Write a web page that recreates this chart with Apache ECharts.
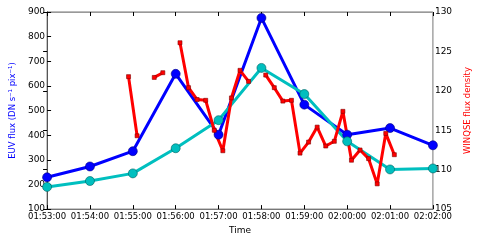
<!DOCTYPE html>
<html>
<head>
<meta charset="utf-8">
<script src="https://cdn.jsdelivr.net/npm/echarts@6/dist/echarts.min.js"></script>
<style>
html,body{margin:0;padding:0;background:#fff;}
#chart{width:480px;height:240px;}
</style>
</head>
<body>
<div id="chart"></div>
<script>
// seconds after 01:53:00
const xTickLabels = ['01:53:00','01:54:00','01:55:00','01:56:00','01:57:00','01:58:00','01:59:00','02:00:00','02:01:00','02:02:00'];
const euvTimes = [0, 60, 120, 180, 240, 300, 360, 420, 480, 540];
const euvBlue = [229, 273, 335, 649, 402, 876, 524, 402, 429, 359];
const euvCyan = [190, 214, 245, 347, 461, 673, 567, 375, 261, 265];
const radioTimes = [114, 126, 138, 150, 162, 174, 186, 198, 210, 222, 234, 246, 258, 270, 282, 294, 306, 318, 330, 342, 354, 366, 378, 390, 402, 414, 426, 438, 450, 462, 474, 486];
const radioFlux = [121.8, 114.3, null, 121.7, 122.3, null, 126.1, 120.4, 118.9, 118.8, 115.0, 112.4, 119.1, 122.6, 121.2, null, 122.0, 120.4, 118.7, 118.8, 112.1, 113.5, 115.4, 113.0, 113.6, 117.4, 111.2, 112.5, 111.4, 108.2, 114.6, 111.9];

const pair = (xs, ys) => xs.map((x, i) => [x, ys[i]]);
const font = 'DejaVu Sans';
const chart = echarts.init(document.getElementById('chart'), null, {renderer: 'canvas'});
chart.setOption({
  animation: false,
  backgroundColor: '#fff',
  grid: {left: 38, right: 34, top: 12, bottom: 24, show: true, borderColor: '#777', borderWidth: 1},
  xAxis: [{
    type: 'value', min: 0, max: 540, interval: 60,
    name: 'Time', nameLocation: 'middle', nameGap: 15,
    nameTextStyle: {fontFamily: font, fontSize: 9, color: '#000'},
    axisLine: {show: true, onZero: false, lineStyle: {color: '#777'}},
    axisTick: {show: true, inside: true, length: 4, lineStyle: {color: '#000'}},
    axisLabel: {fontFamily: font, fontSize: 8.5, color: '#000', margin: 3,
      formatter: v => xTickLabels[Math.round(v / 60)] || ''},
    splitLine: {show: false}
  }, {
    type: 'value', min: 0, max: 540, interval: 60, position: 'top',
    axisLine: {show: true, lineStyle: {color: '#999'}},
    axisTick: {show: true, inside: true, length: 4, lineStyle: {color: '#000'}},
    axisLabel: {show: false}, splitLine: {show: false}
  }],
  yAxis: [{
    type: 'value', min: 100, max: 900, interval: 100,
    name: 'EUV flux (DN s⁻¹ pix⁻¹)', nameLocation: 'middle', nameGap: 26,
    nameTextStyle: {fontFamily: font, fontSize: 8.5, color: '#0000ff'},
    axisLine: {show: true, lineStyle: {color: '#333'}},
    axisTick: {show: true, inside: true, length: 4, lineStyle: {color: '#000'}},
    axisLabel: {fontFamily: font, fontSize: 9, color: '#000', margin: 2},
    splitLine: {show: false}
  }, {
    type: 'value', min: 105, max: 130, interval: 5, position: 'right',
    name: 'WINQSE flux density', nameLocation: 'middle', nameGap: 22,
    nameRotate: 90,
    nameTextStyle: {fontFamily: font, fontSize: 8.5, color: '#ff0000'},
    axisLine: {show: true, lineStyle: {color: '#555'}},
    axisTick: {show: true, inside: true, length: 4, lineStyle: {color: '#000'}},
    axisLabel: {fontFamily: font, fontSize: 9, color: '#000', margin: 2},
    splitLine: {show: false}
  }],
  series: [{
    type: 'line', xAxisIndex: 0, yAxisIndex: 0, data: pair(euvTimes, euvBlue),
    symbol: 'circle', symbolSize: 9,
    lineStyle: {color: '#0000ff', width: 3},
    itemStyle: {color: '#0000ff', borderColor: '#000080', borderWidth: 0.6}
  }, {
    type: 'line', xAxisIndex: 0, yAxisIndex: 0, data: pair(euvTimes, euvCyan),
    symbol: 'circle', symbolSize: 9,
    lineStyle: {color: '#00bfbf', width: 3},
    itemStyle: {color: '#00bfbf', borderColor: '#005f5f', borderWidth: 0.6}
  }, {
    type: 'line', xAxisIndex: 0, yAxisIndex: 1, data: pair(radioTimes, radioFlux),
    connectNulls: false, showAllSymbol: true,
    symbol: 'rect', symbolSize: 4,
    lineStyle: {color: '#ff0000', width: 3},
    itemStyle: {color: '#ff0000', borderColor: '#800000', borderWidth: 0.6}
  }]
});
</script>
</body>
</html>
